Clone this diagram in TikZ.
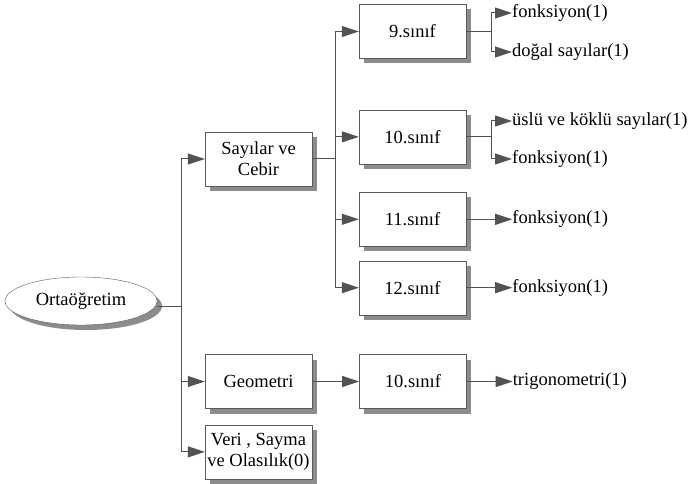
\documentclass[tikz,border=0pt]{standalone}
\usepackage{fontspec}
\setmainfont{Liberation Serif}
\usetikzlibrary{arrows.meta,positioning,shadows,shapes.geometric}

\begin{document}
\begin{tikzpicture}[x=1pt,y=1pt,node distance=14pt,
                    font=\fontsize{18.5}{21}\selectfont]
  \tikzstyle{shade}=[drop shadow={shadow xshift=5pt,shadow yshift=-5pt,
                     fill=black!45,opacity=1}]
  \tikzstyle{box}=[rectangle,draw=black!65,fill=white,shade,align=center,
                   minimum width=107pt,minimum height=54pt,inner sep=1pt]
  \tikzstyle{leaf}=[inner sep=0pt,anchor=west]
  \tikzstyle{link}=[draw=black!68,line width=1pt]
  \tikzstyle{arr}=[link,-{Triangle[length=17pt,width=11pt]}]

  \useasboundingbox (0,0) rectangle (688,-484);

	\node[ellipse,draw=black!65,fill=white,shade,minimum width=152pt,
	      minimum height=48pt,inner sep=0pt]	(ort) at (81,-301) {Ortaöğretim};
	\node[box]	(say) at (258.5,-159)	{Sayılar ve\\Cebir};
	\node[box]	(geo) at (258.5,-381.5)	{Geometri};
	\node[box]	(veri) [below=16pt of geo]	{Veri , Sayma\\ve Olasılık(0)};
	\node[box]	(s9) at (412.5,-31.5)	{9.sınıf};
	\node[box]	(s10) [below=51pt of s9]	{10.sınıf};
	\node[box]	(s11) [below=28pt of s10]	{11.sınıf};
	\node[box]	(s12) [below=14pt of s11]	{12.sınıf};
	\node[box]	(g10) [right=47pt of geo]	{10.sınıf};

	\node[leaf]	(f9a) at (512,-13)	{fonksiyon(1)};
	\node[leaf]	(f9b) at (512,-52)	{doğal sayılar(1)};
	\node[leaf]	(f10a) at (512,-121)	{üslü ve köklü sayılar(1)};
	\node[leaf]	(f10b) at (512,-159)	{fonksiyon(1)};
	\node[leaf]	(f11) [right=46pt of s11]	{fonksiyon(1)};
	\node[leaf]	(f12) [right=46pt of s12]	{fonksiyon(1)};
	\node[leaf]	(trig) [right=46pt of g10]	{trigonometri(1)};

	% junctions
	\coordinate (oj) at ([xshift=24pt,yshift=-5pt]ort.east);
	\coordinate[right=23pt of say] (sj);
	\coordinate[right=25pt of s9] (j9);
	\coordinate[right=25pt of s10] (j10);

	\draw[link] ([yshift=-5pt]ort.east) -- (oj);
	\draw[arr] (oj) |- (say);
	\draw[arr] (oj) |- (geo);
	\draw[arr] (oj) |- (veri);

	\draw[link] (say) -- (sj);
	\draw[arr] (sj) |- (s9);
	\draw[arr] (sj) |- (s10);
	\draw[arr] (sj) |- (s11);
	\draw[arr] (sj) |- (s12);

	\draw[link] (s9) -- (j9);
	\draw[arr] (j9) |- (f9a);
	\draw[arr] (j9) |- (f9b);
	\draw[link] (s10) -- (j10);
	\draw[arr] (j10) |- (f10a);
	\draw[arr] (j10) |- (f10b);
	\draw[arr] (s11) -- (f11);
	\draw[arr] (s12) -- (f12);

	\draw[arr] (geo) -- (g10);
	\draw[arr] (g10) -- (trig);

\end{tikzpicture}
\end{document}
